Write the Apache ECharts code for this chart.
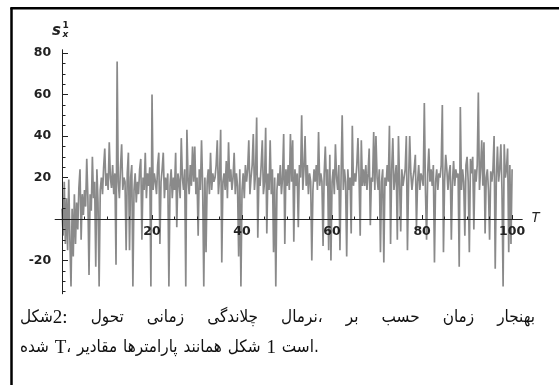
<!DOCTYPE html>
<html>
<head>
<meta charset="utf-8">
<script src="https://cdn.jsdelivr.net/npm/echarts@6/dist/echarts.min.js"></script>
<style>
  html, body { margin: 0; padding: 0; background: #fff; }
  #chart { width: 559px; height: 385px; }
</style>
</head>
<body>
<div id="chart"></div>
<script>
// Normalised squeezing s_x^1 sampled every 0.25 time units, T = 0 … 100
const tStep = 0.25;
const s00 = [5,-8,18,-12, 10,-15,19,-10, -32.5,5,-18,12, -12,8,-5,15, 24,-10,12,2, 14,6,29,10, -27,12,4,30, 10,18,-23,24, 8,-32.5,14,20, 12,25,34,16];
const s10 = [22,14,37,20, 15,26,12,22, -22,76,18,10, 25,36,14,20, 18,-15,22,32, -15,20,26,-32.5, 14,22,8,18, 12,24,29,-10, 20,14,32,10, 22,16,25,-32.5];
const s20 = [60,14,22,18, 12,26,32,-12, 18,24,32,10, 20,14,22,-32.5, 16,24,10,20, 14,32,-4,22, 18,10,39,20, 14,24,-32.5,43, 20,12,26,16, 35,18,35,12];
const s30 = [20,-8,24,14, 38,16,-32.5,20, -16,18,24,12, 32,14,22,18, 20,26,38,12, 20,43,-21,18, 22,14,28,10, 37,18,24,14, 20,32,12,22, 16,-18,24,-32.5];
const s40 = [14,22,10,26, 18,24,38,12, 20,26,41,14, 22,49,-9,20, 16,26,38,12, 18,44,-7,22, 14,38,12,24, -16,20,-32.5,14, 22,16,26,12, 20,41,-12,24];
const s50 = [16,26,14,41, 18,38,-11,24, 16,22,-4,26, 20,50,14,24, 40,16,26,12, 22,18,-20,14, 24,18,26,14, 42,16,22,18, -13,22,35,16, 24,-15,31,-20];
const s60 = [18,24,12,36, 20,14,26,-15, 20,50,14,24, 18,-18,24,14, 20,-7,45,16, 22,18,26,39, 20,-8,38,16, 24,16,26,14, 22,34,-3,20, 18,42,14,40];
const s70 = [20,14,24,-16, 18,24,-21,20, 16,26,18,45, -12,24,39,14, 20,26,-10,40, 18,-6,24,16, 20,24,40,-15, 18,40,22,14, 20,24,31,-4, 18,26,14,22];
const s80 = [20,16,56,14, -10,22,34,18, 24,16,26,-21, 18,24,14,22, 20,26,55,-16, 18,31,24,14, 22,26,-10,18, 28,16,24,20, 22,-23,54,14, 24,18,-8,26];
const s90 = [30,18,-16,29, 22,30,-5,24, 18,26,61,14, 24,38,16,37, -7,20,24,14, -10,23,18,24, 40,-24,20,35, 18,24,36,14, -32.5,36,20,24, 34,-16,26,-12, 24];

// Axis ticks
const xMajorTicks = [20, 40, 60, 80, 100];
const xMinorTicks = [5, 10, 15, 25, 30, 35, 45, 50, 55, 65, 70, 75, 85, 90, 95];
const yMajorTicks = [-20, 20, 40, 60, 80];
const yMinorTicks = [-35, -30, -25, -15, -10, -5, 5, 10, 15, 25, 30, 35, 45, 50, 55, 65, 70, 75];

// Caption (Persian): [style, text, joinedToPrevious] tokens in left-to-right visual order
const captionLine1 = [['ar','شکل'],['num','2:',1],['ar','تحول'],['ar','زمانی'],['ar','چلاندگی'],['ar','نرمال'],['ar','،',1],['ar','بر'],['ar','حسب'],['ar','زمان'],['ar','بهنجار']];
const captionLine2 = [['ar','شده'],['num','T'],['ar','،',1],['ar','مقادیر'],['ar','پارامترها'],['ar','همانند'],['ar','شکل'],['num','1'],['ar','است'],['ar','.',1]];

const values = [].concat(s00, s10, s20, s30, s40, s50, s60, s70, s80, s90);
const seriesData = values.map((v, i) => [i * tStep, v]);

const X_MIN = -1.5, X_MAX = 102.2, Y_MIN = -36, Y_MAX = 81.5;
const GRID = { left: 55.25, right: 37, top: 50, bottom: 91.3 };
const axisColor = '#222';
const labelFont = { color: '#222', fontFamily: 'DejaVu Sans', fontWeight: 'bold', fontSize: 12.5 };

// caption typography
const AR_FONT = { fontFamily: '"DejaVu Sans Condensed", "DejaVu Sans"', fontSize: 17 };
const NUM_FONT = { fontFamily: '"Liberation Serif"', fontSize: 19 };
const CAPTION_LEFT = 20, CAPTION_WIDTH = 515;

const measureCtx = document.createElement('canvas').getContext('2d');
function tokenWidth(style, text) {
  const f = style === 'num' ? NUM_FONT : AR_FONT;
  measureCtx.font = f.fontSize + 'px ' + f.fontFamily;
  return measureCtx.measureText(text).width;
}
function richLine(tokens) {
  return tokens.map(([s, t, joined], i) => (i > 0 && !joined ? '{gap| }' : '') + '{' + s + '|' + t + '}').join('');
}
const gapCount = (tokens) => tokens.filter(([, , j], i) => i > 0 && !j).length;
// the first line is justified across the full caption width
const line1Words = captionLine1.reduce((w, [s, t]) => w + tokenWidth(s, t), 0);
const gap1 = (CAPTION_WIDTH - line1Words) / gapCount(captionLine1);
const gap2 = tokenWidth('ar', ' ') + 1;

const richStyles = (gap) => ({
  ar: Object.assign({ fill: '#111' }, AR_FONT),
  num: Object.assign({ fill: '#111' }, NUM_FONT),
  gap: Object.assign({ width: gap }, AR_FONT)
});

// x labels sit just under the T axis, which crosses at s = 0
const plotH = 385 - GRID.top - GRID.bottom;
const labelShift = plotH * (0 - Y_MIN) / (Y_MAX - Y_MIN);

const chart = echarts.init(document.getElementById('chart'), null, { renderer: 'canvas' });
chart.setOption({
  animation: false,
  backgroundColor: '#fff',
  grid: Object.assign({ containLabel: false }, GRID),
  xAxis: [
    {
      type: 'value', position: 'bottom', min: X_MIN, max: X_MAX, z: 3,
      axisLine: { show: true, onZero: true, onZeroAxisIndex: 0, lineStyle: { color: axisColor, width: 1 } },
      axisTick: { show: true, inside: true, length: 4, customValues: xMajorTicks, lineStyle: { color: axisColor } },
      axisLabel: Object.assign({ show: true, margin: 6 - labelShift, customValues: xMajorTicks }, labelFont),
      splitLine: { show: false }
    },
    {
      type: 'value', position: 'top', min: X_MIN, max: X_MAX, z: 3,
      axisLine: { show: true, onZero: true, onZeroAxisIndex: 1, lineStyle: { color: axisColor, width: 1 } },
      axisTick: { show: true, inside: false, length: 2.5, customValues: xMinorTicks, lineStyle: { color: axisColor } },
      axisLabel: { show: false },
      splitLine: { show: false }
    }
  ],
  yAxis: [
    {
      type: 'value', position: 'left', min: Y_MIN, max: Y_MAX, z: 3,
      axisLine: { show: true, onZero: true, onZeroAxisIndex: 0, lineStyle: { color: axisColor, width: 1 } },
      axisTick: { show: true, inside: true, length: 6, customValues: yMajorTicks, lineStyle: { color: axisColor } },
      axisLabel: Object.assign({ show: true, margin: 4, customValues: yMajorTicks }, labelFont),
      splitLine: { show: false }
    },
    {
      type: 'value', position: 'right', min: Y_MIN, max: Y_MAX, z: 3,
      axisLine: { show: true, onZero: true, onZeroAxisIndex: 1, lineStyle: { color: axisColor, width: 1 } },
      axisTick: { show: true, inside: false, length: 3.5, customValues: yMinorTicks, lineStyle: { color: axisColor } },
      axisLabel: { show: false },
      splitLine: { show: false }
    }
  ],
  series: [{
    type: 'line',
    xAxisIndex: 0, yAxisIndex: 0,
    data: seriesData,
    showSymbol: false,
    lineStyle: { color: '#8a8a8a', width: 1.7 },
    z: 1
  }],
  graphic: [
    // frame
    { type: 'line', shape: { x1: 11.5, y1: 8, x2: 11.5, y2: 385 }, style: { stroke: '#000', lineWidth: 2.5 } },
    { type: 'line', shape: { x1: 10.3, y1: 8.2, x2: 559, y2: 8.2 }, style: { stroke: '#000', lineWidth: 2.5 } },
    // y-axis name s_x^1
    { type: 'text', x: 52, y: 24, style: { text: 's', font: 'italic bold 15px "DejaVu Sans"', fill: '#222' } },
    { type: 'text', x: 62.5, y: 21, style: { text: '1', font: 'bold 9px "DejaVu Sans"', fill: '#222' } },
    { type: 'text', x: 62.5, y: 30, style: { text: 'x', font: 'italic bold 9px "DejaVu Sans"', fill: '#222' } },
    // x-axis name T
    { type: 'text', x: 531, y: 211, style: { text: 'T', font: 'italic 14px "Liberation Sans"', fill: '#222' } },
    // caption
    { type: 'text', x: CAPTION_LEFT, y: 318, style: { text: richLine(captionLine1), rich: richStyles(gap1), align: 'left', verticalAlign: 'middle' } },
    { type: 'text', x: CAPTION_LEFT, y: 348, style: { text: richLine(captionLine2), rich: richStyles(gap2), align: 'left', verticalAlign: 'middle' } }
  ]
});
</script>
</body>
</html>
